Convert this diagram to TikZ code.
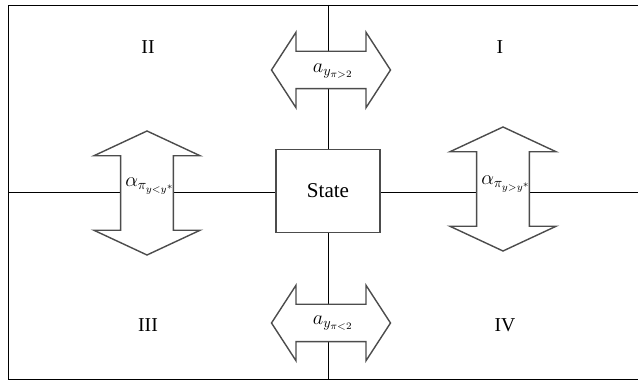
\documentclass[tikz,border=0pt]{standalone}
\usepackage{fontspec}
\setmainfont{Liberation Serif}
\newfontfamily\timesfont{Liberation Serif}
\usetikzlibrary{shapes.arrows,backgrounds}

\begin{document}
\begin{tikzpicture}[
    x=0.25mm, y=-0.25mm,
    line width=1pt, draw=black!70,
    statebox/.style={draw, fill=white, minimum width=26mm, minimum height=20.75mm,
                font=\timesfont\fontsize{15}{17}\selectfont},
    harrow/.style={double arrow, draw, fill=white, inner xsep=0pt, inner ysep=4.5mm,
                minimum height=29.75mm, double arrow head extend=4.75mm,
                double arrow tip angle=114},
    varrow/.style={double arrow, draw, fill=white, rotate=90, inner xsep=0pt,
                inner ysep=6.4mm, minimum height=31mm, double arrow head extend=6.7mm,
                double arrow tip angle=130},
    quad/.style={font=\timesfont\fontsize{14}{16}\selectfont},
    lbl/.style={font=\fontsize{14}{16}\selectfont}
]
\useasboundingbox (0,0) rectangle (638,381);
% frame and axes
\coordinate (tl) at (8,5);
\coordinate (bl) at (8,379);
\coordinate (tr) at (638,5);
\coordinate (br) at (638,379);
\coordinate (top) at (328,5);
\coordinate (bot) at (328,379);
\coordinate (west) at (8,192);
\coordinate (east) at (638,192);

\node[statebox] (state) at (328,191) {State};
\node[harrow] (up) at (331,70) {};
\node[harrow] (down) at (331,323) {};
\node[varrow] (left) at (147,193) {};
\node[varrow] (right) at (503,189) {};

\node[lbl] (lup) at (333,71) {$a_{y_{\pi>2}}$};
\node[lbl] (ldown) at (333,323) {$a_{y_{\pi<2}}$};
\node[lbl] (lleft) at (150,186) {$\alpha_{\pi_{y<y^*}}$};
\node[lbl] (lright) at (506,184) {$\alpha_{\pi_{y>y^*}}$};

\node[quad] (q1) at (500,47) {I};
\node[quad] (q2) at (148,47) {II};
\node[quad] (q3) at (148,325) {III};
\node[quad] (q4) at (505,325) {IV};

\begin{scope}[on background layer]
\draw (tr) -- (tl) -- (bl) -- (br);
\draw (top) -- (state.north);
\draw (state.south) -- (bot);
\draw (west) -- (state.west |- west);
\draw (state.east |- east) -- (east);
\end{scope}
\end{tikzpicture}
\end{document}
